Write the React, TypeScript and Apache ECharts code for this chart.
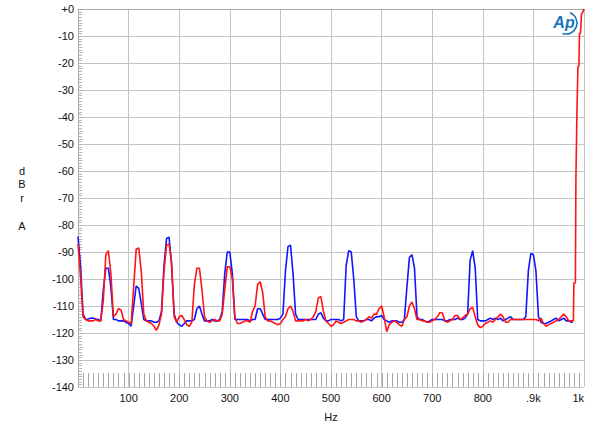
import React, { useEffect, useRef } from "react";
import * as echarts from "echarts";

// Frequencies 0..975 Hz every 5 Hz, then the rising edge up to 1 kHz
const baseFreqs: number[] = [];
for (let f = 0; f <= 975; f += 5) baseFreqs.push(f);
const edgeFreqs = [979, 980, 983, 984, 985, 986, 987, 988, 990, 991, 993, 995, 998, 1000];
const edgeDb = [-115.5, -101.5, -101.5, -63, -63, -38.5, -38.5, -21.5, -21, -9, -9, -2, -1, 0];
const blueTailFreqs = [978];
const blueTailDb = [-115.8];

const blueDb = [
  -84.3, -95, -113, -115, -114.8, -114.5, -114.5, -114.8, -115, -115.5, -104, -96,
  -96, -103, -115, -115, -115.5, -115.5, -115.5, -116, -116.5, -117.5, -110, -102.6,
  -103.5, -109, -115, -115.5, -115.5, -115.5, -116, -116, -115.5, -112, -95, -85,
  -84.5, -95, -113, -116, -117, -117.5, -116.5, -115.5, -115.5, -115.5, -115, -111,
  -110, -113, -115.5, -115.5, -115.5, -115, -115.5, -115.5, -115, -112, -98, -90,
  -90, -98, -115, -115, -115, -115, -115, -115, -115.5, -115, -115, -111,
  -111, -113, -115, -115, -115, -115, -115, -115, -114.5, -113, -97, -88,
  -87.5, -98, -113, -115, -115, -115, -115, -115, -115, -115, -115, -113,
  -112.5, -114.5, -115.5, -115.5, -115, -115, -115, -115, -115.5, -115, -95, -89.5,
  -90, -100, -114, -115.5, -115.5, -115.5, -115, -115, -115.5, -114.5, -114, -114,
  -113.5, -115, -115.5, -116, -115.5, -115.5, -115.5, -116, -116, -115, -103, -92,
  -91, -96, -114, -115, -115, -115.5, -116, -115.5, -115, -115, -115, -115,
  -115, -115.5, -115.5, -115, -115, -115, -114.5, -115, -115, -114.5, -113, -93,
  -89.5, -96, -115, -115.5, -115.5, -115.5, -115, -114.5, -115, -114.5, -115, -114.5,
  -115.5, -115, -114.5, -114, -115, -115, -115, -115, -115, -114, -97, -90.5,
  -91, -97, -114, -116, -116.5, -116.5, -116, -115.5, -115, -114.5, -115.5, -115,
  -114.5, -115.5, -115.5, -116,
];

const redDb = [
  -87, -99, -114, -115, -115.5, -115.5, -115.5, -115, -115.5, -115.5, -108, -91,
  -89.5, -98, -114, -113, -111, -111.5, -115, -115.5, -116, -116.5, -103, -89,
  -88.5, -97, -113, -115.5, -116, -116.5, -117.5, -119, -117, -113, -97, -87.5,
  -87, -94, -114, -116, -114, -113.5, -115, -117, -117.5, -116, -102, -96,
  -96, -104, -114, -115.5, -116, -115.5, -115, -115.5, -115.5, -113, -104, -95.5,
  -95.5, -100, -114, -116.5, -116.5, -116, -115.5, -115.5, -116, -112, -110, -102,
  -101, -105, -114, -115.5, -115.5, -116, -116.5, -117, -116.5, -115, -114, -111,
  -110, -112, -115.5, -115.5, -115.5, -115.5, -115, -115.5, -115, -114, -112, -107,
  -106.5, -112, -115.5, -116.5, -117.5, -117, -115.5, -116, -116.5, -116, -115.5, -115,
  -115, -115, -115.5, -115.5, -116, -115.5, -115, -114, -114.5, -113, -113, -111,
  -110, -114, -119.5, -117, -116, -115.5, -116, -117, -117.5, -115, -114, -110,
  -108.5, -111, -115, -115, -115.5, -115.5, -116, -116, -115.5, -115, -114, -112.5,
  -112.5, -115.5, -116, -115.5, -115, -113.5, -113.5, -115, -114.5, -113.5, -113, -111,
  -110.5, -114, -117, -118, -117.5, -116.5, -116, -115.5, -116, -115, -114, -113,
  -114, -116, -116, -115, -115, -115, -115, -115, -115, -115, -115, -115,
  -115, -115, -115.5, -114.5, -116.5, -117.5, -117, -116.5, -116, -115.5, -115, -114,
  -113, -114, -115.5, -115.5,
];

const xTickLabels: Record<number, string> = {
  100: "100", 200: "200", 300: "300", 400: "400", 500: "500",
  600: "600", 700: "700", 800: "800", 900: ".9k", 1000: "1k",
};
const yLabelFor = (v: number) => (v === 0 ? "+0" : String(v));
const unitLetters = ["d", "B", "r", "", "A"];

// minor tick positions (axis decoration)
const xMinorTicks: number[] = [];
for (let f = 10; f < 1000; f += 10) xMinorTicks.push(f);
const yMinorTicks: number[] = [];
for (let d = -139; d < 0; d += 1) yMinorTicks.push(d);

const FONT = '"Liberation Sans", Arial, Helvetica, sans-serif';

export default function App() {
  const ref = useRef<HTMLDivElement>(null);
  useEffect(() => {
    if (!ref.current) return;
    const chart = echarts.init(ref.current, null, { renderer: "svg" });
    const redFreqs = baseFreqs.concat(edgeFreqs);
    const red = redDb.concat(edgeDb);
    const blueFreqs = baseFreqs.concat(blueTailFreqs);
    const blue = blueDb.concat(blueTailDb);
    const unitYs = [170.5, 184, 197.5, 211, 225.5];
    chart.setOption({
      animation: false,
      backgroundColor: "#ffffff",
      textStyle: { fontFamily: FONT },
      grid: { left: 78, top: 9, width: 506, height: 378 },
      xAxis: {
        type: "value",
        min: 0,
        max: 1000,
        interval: 100,
        name: "Hz",
        nameLocation: "middle",
        nameGap: 24,
        nameTextStyle: { fontSize: 11, color: "#111", fontFamily: FONT },
        axisLine: { show: true, lineStyle: { color: "#a8a8a8", width: 1 } },
        axisTick: { show: false },
        splitLine: { show: true, lineStyle: { color: "#c4c4c4", width: 1 } },
        axisLabel: {
          margin: 5,
          fontSize: 11,
          color: "#111",
          fontFamily: FONT,
          alignMaxLabel: "right",
          formatter: (v: number) => xTickLabels[v] ?? "",
        },
      },
      yAxis: {
        type: "value",
        min: -140,
        max: 0,
        interval: 10,
        axisLine: { show: true, lineStyle: { color: "#a8a8a8", width: 1 } },
        axisTick: { show: false },
        splitLine: { show: true, lineStyle: { color: "#c4c4c4", width: 1 } },
        axisLabel: {
          margin: 4,
          fontSize: 11,
          color: "#111",
          fontFamily: FONT,
          formatter: (v: number) => yLabelFor(v),
        },
      },
      graphic: [
        ...unitLetters.map((t, i) => ({
          type: "text",
          x: 22,
          y: unitYs[i],
          style: {
            text: t,
            fontSize: 11,
            fontFamily: FONT,
            fill: "#111",
            align: "center",
            verticalAlign: "middle",
          },
        })),
        {
          type: "arc",
          shape: { cx: 566, cy: 23, r: 11, startAngle: -1.2, endAngle: 1.9 },
          style: { stroke: "#1b75bc", lineWidth: 1.6, fill: "none" },
        },
        {
          type: "text",
          x: 564,
          y: 22,
          style: {
            text: "Ap",
            fontSize: 16,
            fontStyle: "italic",
            fontWeight: "bold",
            fontFamily: FONT,
            fill: "#1b75bc",
            align: "center",
            verticalAlign: "middle",
          },
        },
      ],
      series: [
        {
          type: "custom",
          name: "xMinor",
          silent: true,
          clip: false,
          z: 1,
          data: xMinorTicks.map((v) => [v, -140]),
          renderItem: (_p: any, api: any) => {
            const pt = api.coord([api.value(0), api.value(1)]);
            const x = Math.round(pt[0]) + 0.5;
            return {
              type: "line",
              shape: { x1: x, y1: pt[1], x2: x, y2: pt[1] - 14 },
              style: { stroke: "#a8a8a8", lineWidth: 1 },
            };
          },
        },
        {
          type: "custom",
          name: "yMinor",
          silent: true,
          clip: false,
          z: 1,
          data: yMinorTicks.map((v) => [0, v]),
          renderItem: (_p: any, api: any) => {
            const pt = api.coord([api.value(0), api.value(1)]);
            const y = Math.round(pt[1]) + 0.5;
            return {
              type: "line",
              shape: { x1: pt[0], y1: y, x2: pt[0] + 4, y2: y },
              style: { stroke: "#b4b4b4", lineWidth: 1 },
            };
          },
        },
        {
          type: "line",
          name: "blue",
          data: blueFreqs.map((f, i) => [f, blue[i]]),
          showSymbol: false,
          symbol: "none",
          lineStyle: { color: "#1414ff", width: 1.6 },
          z: 3,
        },
        {
          type: "line",
          name: "red",
          data: redFreqs.map((f, i) => [f, red[i]]),
          showSymbol: false,
          symbol: "none",
          lineStyle: { color: "#ff1414", width: 1.6 },
          z: 4,
        },
      ],
    });
    return () => chart.dispose();
  }, []);
  return (
    <div
      ref={ref}
      style={{ position: "fixed", left: 0, top: 0, width: 600, height: 430, background: "#fff" }}
    />
  );
}
